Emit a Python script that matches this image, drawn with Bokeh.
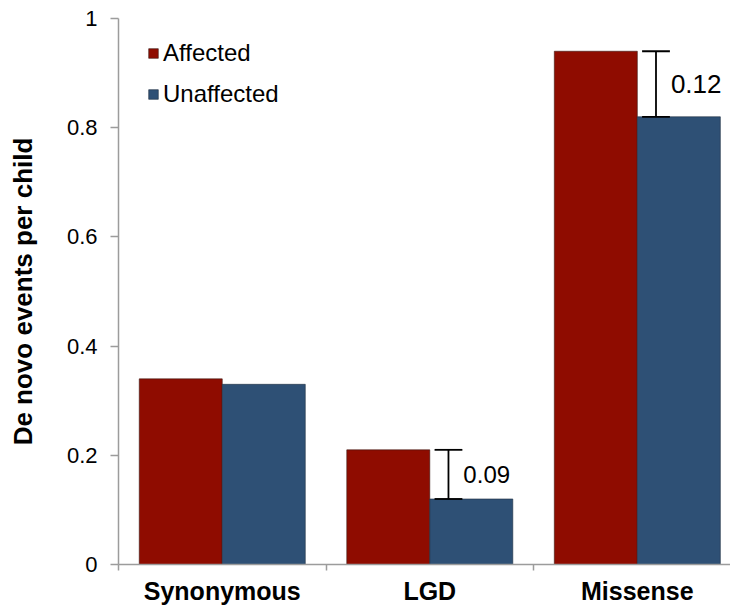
from bokeh.plotting import figure
from bokeh.models import Range1d, FixedTicker, ColumnDataSource, Legend, LegendItem
from bokeh.core.properties import value
from bokeh.embed import file_html
from bokeh.resources import INLINE

# ---- data ----
categories = ["Synonymous", "LGD", "Missense"]
affected = [0.34, 0.21, 0.94]
unaffected = [0.33, 0.12, 0.82]
diff_index = [1, 2]
diff_labels = ["0.09", "0.12"]
y_ticks = [0, 0.2, 0.4, 0.6, 0.8, 1.0]
y_tick_labels = ["0", "0.2", "0.4", "0.6", "0.8", "1"]
y_title = "De novo events per child"

# ---- style ----
RED = "#8f0c00"
BLUE = "#2e5075"
AXIS = "#9c9c9c"
FONT = "Liberation Sans"
diff_font_sizes = ["24px", "26px"]

n = len(categories)
centers = [i + 0.5 for i in range(n)]
bw = 0.4

p = figure(width=730, height=607, output_backend="svg", toolbar_location=None,
           x_range=Range1d(0, 2.949), y_range=Range1d(0, 1),
           min_border_left=118, min_border_right=0, min_border_top=18, min_border_bottom=43)
p.outline_line_color = None
p.xgrid.visible = False
p.ygrid.visible = False

src = ColumnDataSource(dict(
    xa=[c - bw / 2 for c in centers], xu=[c + bw / 2 for c in centers],
    a=affected, u=unaffected))
ra = p.vbar(x="xa", top="a", width=bw, source=src, fill_color=RED,
            line_color="#3a1a14", line_width=0.6)
ru = p.vbar(x="xu", top="u", width=bw, source=src, fill_color=BLUE,
            line_color="#1e2e40", line_width=0.6)

# difference brackets
off = 0.09
cap = 0.067
ex = [centers[i] + off for i in diff_index]
top_v = [affected[i] for i in diff_index]
bot_v = [unaffected[i] for i in diff_index]
mid_v = [(affected[i] + unaffected[i]) / 2 for i in diff_index]
esrc = ColumnDataSource(dict(x=ex, x0=[x - cap for x in ex], x1=[x + cap for x in ex],
                             top=top_v, bot=bot_v, mid=mid_v, lab=diff_labels,
                             fs=diff_font_sizes))
p.segment(x0="x", y0="bot", x1="x", y1="top", source=esrc, line_color="black", line_width=1.8)
p.segment(x0="x0", y0="top", x1="x1", y1="top", source=esrc, line_color="black", line_width=1.8)
p.segment(x0="x0", y0="bot", x1="x1", y1="bot", source=esrc, line_color="black", line_width=1.8)
p.text(x="x1", y="mid", text="lab", source=esrc, x_offset=1, text_baseline="middle",
       text_align="left", text_font=value(FONT), text_font_size="fs", text_color="black")

# x axis: labels at centers, ticks at category boundaries
xa = p.xaxis[0]
xa.ticker = FixedTicker(ticks=centers, minor_ticks=list(range(n + 1)))
xa.major_label_overrides = {c: lab for c, lab in zip(centers, categories)}
xa.major_tick_out = 0
xa.major_tick_in = 0
xa.minor_tick_out = 6
xa.minor_tick_in = 0
xa.minor_tick_line_color = AXIS
xa.minor_tick_line_width = 1.5
xa.axis_line_color = AXIS
xa.axis_line_width = 1.5
xa.major_label_text_font = FONT
xa.major_label_text_font_size = "25px"
xa.major_label_text_font_style = "bold"
xa.major_label_text_color = "black"
xa.major_label_standoff = 6

ya = p.yaxis[0]
ya.ticker = FixedTicker(ticks=y_ticks, minor_ticks=[])
ya.major_label_overrides = {t: lab for t, lab in zip(y_ticks, y_tick_labels)}
ya.major_tick_out = 8
ya.major_tick_in = 0
ya.major_tick_line_color = AXIS
ya.major_tick_line_width = 1.5
ya.axis_line_color = AXIS
ya.axis_line_width = 1.5
ya.major_label_text_font = FONT
ya.major_label_text_font_size = "22px"
ya.major_label_text_color = "black"
ya.major_label_standoff = 13
ya.axis_label = y_title
ya.axis_label_text_font = FONT
ya.axis_label_text_font_size = "26px"
ya.axis_label_text_font_style = "bold"
ya.axis_label_text_color = "black"
ya.axis_label_standoff = 26

legend = Legend(items=[LegendItem(label="Affected", renderers=[ra]),
                       LegendItem(label="Unaffected", renderers=[ru])],
                location=(29, 456), padding=0, margin=0, spacing=13,
                glyph_width=12, glyph_height=12, label_height=27, label_standoff=4,
                label_text_font=FONT, label_text_font_size="24px", label_text_color="black",
                border_line_color=None, background_fill_alpha=0)
p.add_layout(legend)

open("out.html", "w").write(file_html(p, INLINE))
